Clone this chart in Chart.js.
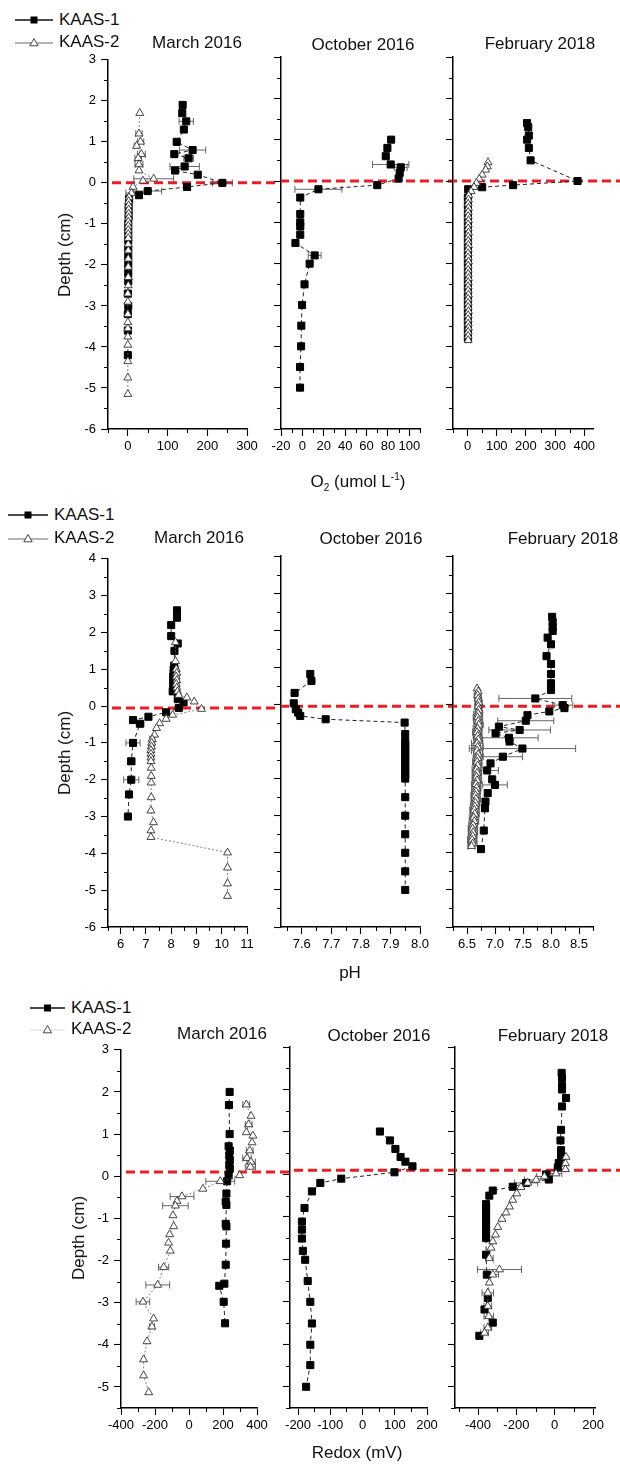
<!DOCTYPE html>
<html>
<head>
<meta charset="utf-8">
<script src="https://cdn.jsdelivr.net/npm/chart.js@4.4.1/dist/chart.umd.min.js"></script>
<style>
  body { margin:0; width:620px; height:1464px; background:#fff; position:relative; overflow:hidden;
         font-family:"Liberation Sans", Arial, sans-serif; color:#111; }
  canvas { position:absolute; }
  .lbl { position:absolute; font-size:17px; white-space:nowrap; transform:translate(-50%,-50%); }
  .ytitle { transform:translate(-50%,-50%) rotate(-90deg); }
  .leg { position:absolute; font-size:17px; white-space:nowrap; display:flex; align-items:center; transform:translateY(-50%); }
  .leg svg { margin-right:6px; }
  sub, sup { font-size:10px; }
</style>
</head>
<body>
<script>
/* ============================================================
   DATA  -  each row: [depth (cm), value, sd]
   ============================================================ */

// O2 (umol L-1)
const o2Mar1 = [[1.9,138],[1.7,137],[1.5,147,18],[1.3,141],[1.0,123],[0.8,163,33],[0.7,117],[0.6,153,12],
  [0.4,143,37],[0.3,119],[0.2,176],[0.0,238,25],[-0.1,149],[-0.2,50,35],[-0.3,28],[-0.4,3],[-0.6,2],[-0.8,2],
  [-1.0,1],[-1.2,1],[-1.4,1],[-1.6,1],[-1.8,1],[-2.0,1],[-2.2,1],[-2.4,1],[-2.7,0],[-3.0,1],[-3.2,0],[-3.6,0],[-4.2,0]];
const o2Mar2 = [[1.7,30],[1.2,28,8],[1.0,32,8],[0.9,22,6],[0.7,34,10],[0.6,26,8],[0.45,28,10],[0.3,28],[0.1,65,50],
  [0.05,38],[-0.1,13],[-0.25,9,14],[-0.35,3,6],[-0.45,2,6],[-0.55,2,6],[-0.65,2,6],[-0.75,2,6],[-0.85,2,6],[-0.95,1,6],
  [-1.05,1,6],[-1.15,1,6],[-1.25,1,6],[-1.35,1,4],[-1.5,1,4],[-1.65,1,4],[-1.85,1],[-2.05,1],[-2.3,1],[-2.5,1],[-2.7,0],
  [-2.9,0],[-3.2,0],[-3.4,0],[-3.55,0],[-3.75,0],[-3.95,0],[-4.35,0],[-4.75,0],[-5.15,0]];
const o2Oct1 = [[1.0,83],[0.8,79.5],[0.6,78],[0.4,82.6,17],[0.33,92,6],[0.2,91],[0.06,90],[-0.1,70],[-0.2,15,22],
  [-0.4,-2],[-0.8,-2],[-1.0,-2],[-1.1,-2],[-1.3,-2],[-1.5,-6.5],[-1.8,11.5,6],[-2.0,6.8],[-2.5,2],[-3.0,-0.3],
  [-3.5,-1],[-4.0,-1.2],[-4.5,-2.2],[-5.0,-2.2]];
const o2Feb1 = [[1.4,204],[1.3,208],[1.1,210],[1.0,204],[0.8,210],[0.5,216],[0.0,377,10],[-0.1,156],[-0.15,50],
  [-0.2,2],[-0.4,1],[-0.6,1],[-0.8,1],[-1.0,1],[-1.2,1],[-1.4,1],[-1.6,1],[-1.8,1],[-2.0,1],[-2.2,1],[-2.4,1],
  [-2.6,1],[-2.8,1],[-3.0,1],[-3.2,1],[-3.4,1],[-3.6,1],[-3.8,1]];
const o2Feb2 = [[0.45,70],[0.35,68],[0.27,62],[0.15,50],[0.05,40],[-0.05,30],[-0.15,22],[-0.25,12],[-0.35,4,8],
  [-0.45,3,8],[-0.55,2,8],[-0.65,3,8],[-0.75,2,8],[-0.85,2,8],[-0.95,3,8],[-1.05,2,8],[-1.15,2,8],[-1.25,3,8],
  [-1.35,2,8],[-1.45,2,8],[-1.55,3,8],[-1.65,2,8],[-1.75,2,8],[-1.85,2,8],[-1.95,3,8],[-2.05,2,8],[-2.15,2,8],
  [-2.25,2,8],[-2.35,3,8],[-2.45,2,8],[-2.55,2,8],[-2.65,2,8],[-2.75,3,8],[-2.85,2,8],[-2.95,2,8],[-3.05,2,8],
  [-3.15,3,8],[-3.25,2,8],[-3.35,2,8],[-3.45,2,8],[-3.55,3,8],[-3.65,2,8],[-3.75,2,8],[-3.85,2,8]];

// pH
const phMar1 = [[2.6,8.23],[2.4,8.23],[2.2,8.0],[1.9,8.0],[1.7,8.26],[1.5,8.13],[1.1,8.12],[1.0,8.1],[0.9,8.1],
  [0.8,8.08],[0.7,8.1],[0.6,8.08],[0.5,8.1],[0.4,8.06],[0.19,8.26],[0.1,8.49],[-0.05,8.3],[-0.17,7.8],[-0.29,7.1],
  [-0.38,6.49],[-0.48,6.77,0.15],[-1.0,6.49,0.28],[-1.5,6.42,0.15],[-2.0,6.42,0.3],[-2.4,6.33,0.12],[-3.0,6.29]];
const phMar2 = [[1.73,8.17],[1.22,8.17],[1.0,8.2,0.1],[0.9,8.22,0.1],[0.8,8.2,0.1],[0.7,8.22,0.1],[0.6,8.2,0.1],
  [0.5,8.22,0.1],[0.4,8.25],[0.3,8.3],[0.23,8.62],[0.12,8.91],[-0.08,9.2],[-0.24,8.06],[-0.35,7.8],[-0.47,7.54],
  [-0.6,7.42],[-0.78,7.34],[-0.9,7.25,0.1],[-1.0,7.23,0.1],[-1.1,7.22,0.1],[-1.2,7.2,0.1],[-1.3,7.2,0.1],[-1.4,7.2,0.1],
  [-1.5,7.2],[-1.68,7.21],[-1.9,7.21],[-2.08,7.21],[-2.48,7.21],[-2.84,7.2],[-3.16,7.3],[-3.38,7.2],[-3.56,7.2],
  [-3.98,10.23],[-4.39,10.23],[-4.82,10.23],[-5.16,10.23]];
const phOct1 = [[0.82,7.629],[0.63,7.633],[0.31,7.576],[0.03,7.573],[-0.13,7.58],[-0.22,7.588],[-0.31,7.595],
  [-0.4,7.681],[-0.49,7.948],[-0.8,7.95],[-1.0,7.95],[-1.1,7.95],[-1.2,7.95],[-1.3,7.95],[-1.4,7.95],[-1.5,7.95],
  [-1.6,7.95],[-1.7,7.95],[-1.8,7.95],[-1.9,7.95],[-2.0,7.95],[-2.5,7.95],[-3.0,7.95],[-3.5,7.95],[-4.0,7.95],
  [-4.5,7.95],[-5.0,7.95]];
const phFeb1 = [[2.36,8.02],[2.22,8.03],[2.09,8.03],[1.98,8.03],[1.8,7.94],[1.62,8.0],[1.3,7.92],[1.09,8.0],
  [0.82,8.0],[0.57,8.0],[0.39,8.0],[0.16,7.72,0.65],[-0.02,8.21,0.18],[-0.1,8.24],[-0.19,7.97],[-0.29,7.58],
  [-0.44,7.55,0.5],[-0.6,7.07],[-0.69,7.44,0.55],[-0.78,7.01],[-0.9,7.25,0.52],[-1.0,7.26],[-1.19,7.49,0.95],
  [-1.41,7.14,0.35],[-1.59,6.92],[-1.78,6.86,0.2],[-2.02,6.95],[-2.17,7.0,0.22],[-2.39,6.87],[-2.62,6.83],
  [-2.8,6.82],[-3.4,6.8],[-3.9,6.75]];
const phFeb2 = [[0.43,6.68],[0.35,6.7],[0.25,6.69,0.06],[0.15,6.7,0.06],[0.05,6.71,0.06],[-0.05,6.7,0.06],
  [-0.15,6.71,0.06],[-0.25,6.7,0.08],[-0.35,6.69,0.08],[-0.45,6.7,0.08],[-0.55,6.71,0.08],[-0.65,6.69,0.08],
  [-0.75,6.68,0.08],[-0.85,6.69,0.08],[-0.95,6.7,0.08],[-1.05,6.68,0.1],[-1.15,6.69,0.1],[-1.25,6.68,0.1],
  [-1.35,6.7,0.08],[-1.45,6.69,0.08],[-1.55,6.68,0.08],[-1.65,6.69,0.08],[-1.75,6.67,0.08],[-1.85,6.68,0.08],
  [-1.95,6.67,0.08],[-2.05,6.68,0.08],[-2.15,6.66,0.08],[-2.25,6.67,0.08],[-2.35,6.66,0.08],[-2.45,6.65,0.08],
  [-2.55,6.66,0.08],[-2.65,6.65,0.08],[-2.75,6.64,0.08],[-2.85,6.63,0.08],[-2.95,6.64,0.08],[-3.05,6.62,0.08],
  [-3.15,6.63,0.08],[-3.25,6.61,0.08],[-3.35,6.6,0.08],[-3.45,6.61,0.08],[-3.55,6.6,0.08],[-3.65,6.59,0.08],
  [-3.75,6.6,0.08],[-3.82,6.58,0.06]];

// Redox (mV)
const rdMar1 = [[2.0,239],[1.69,235],[1.0,239],[0.71,233],[0.61,240],[0.49,237],[0.38,240],[0.27,237],[0.18,240],
  [0.02,233],[-0.12,224],[-0.41,220],[-0.6,216],[-0.68,220],[-1.13,216],[-1.19,220],[-1.6,218],[-2.1,216],
  [-2.55,208],[-2.6,178],[-2.98,204],[-3.49,212]];
const rdMar2 = [[1.7,337,20],[1.43,365],[1.23,351,20],[1.04,337],[0.96,376],[0.8,371],[0.61,357,20],[0.43,341,25],
  [0.34,365,25],[0.22,361,30],[0.02,298],[-0.12,184,85],[-0.3,82],[-0.48,-41,70],[-0.59,-71],[-0.7,-80,75],
  [-0.93,-94],[-1.19,-90],[-1.38,-114],[-1.58,-120],[-1.77,-110],[-2.16,-149,30],[-2.58,-184,70],[-2.98,-271,40],
  [-3.38,-208],[-3.57,-218,15],[-3.92,-247],[-4.35,-267],[-4.73,-267],[-5.13,-237]];
const rdOct1 = [[1.01,54],[0.8,85],[0.6,102],[0.41,118],[0.3,133],[0.19,155],[0.05,99],[-0.1,-66],[-0.2,-131],
  [-0.4,-157],[-0.79,-180],[-1.11,-188],[-1.3,-188],[-1.51,-188],[-1.8,-185],[-2.01,-178],[-2.51,-170],[-3.0,-162],
  [-3.51,-157],[-4.01,-162],[-4.49,-162],[-5.0,-175]];
const rdFeb1 = [[2.39,36],[2.27,38],[2.08,38],[2.0,38],[1.8,59],[1.6,38],[1.05,33],[0.8,30],[0.57,33],[0.41,33],
  [0.27,21],[0.16,16],[0.0,-45],[-0.12,-31],[-0.2,-149,60],[-0.29,-219],[-0.38,-323],[-0.5,-341],[-0.7,-358],
  [-0.8,-358],[-0.9,-358],[-1.0,-358],[-1.1,-358],[-1.2,-358],[-1.3,-358],[-1.4,-358],[-1.5,-358],[-1.89,-358],
  [-2.36,-354],[-2.91,-349],[-3.18,-366],[-3.49,-323],[-3.8,-393]];
const rdFeb2 = [[0.41,59],[0.26,56],[0.12,56],[0.02,7,30],[-0.05,-54,40],[-0.13,-97,60],[-0.2,-141],[-0.3,-176],
  [-0.45,-198],[-0.6,-219],[-0.76,-236],[-0.9,-254],[-1.05,-275],[-1.24,-297],[-1.42,-309],[-1.58,-323],
  [-1.73,-332],[-1.97,-341,20],[-2.24,-288,115],[-2.36,-323,30],[-2.55,-341],[-2.79,-349,30],[-3.1,-349,20],
  [-3.34,-344,25],[-3.61,-349,20],[-3.73,-366,20]];

const surfaceDepth = [0, -0.05, 0.1];
const panelTitles  = ['March 2016', 'October 2016', 'February 2018'];
const seriesNames  = ['KAAS-1', 'KAAS-2'];
const depthTitle   = 'Depth (cm)';

/* ============================================================
   LAYOUT
   ============================================================ */
// axes: [min, max, major, minor, decimals]
const ROWS = [
  { top:57, bottom:429, y:[-6,3], plots:[[108,247],[281,420],[453,593]],
    axes:[[-50,300,100,50,0],[-20,110,20,10,0],[-50,430,100,50,0]],
    series:[[o2Mar1,o2Mar2],[o2Oct1,null],[o2Feb1,o2Feb2]],
    titles:[[197,43],[363,45],[540,44]], ytitle:[65,255],
    xtitle:{x:358,y:482,html:'O<sub>2</sub> (umol L<sup>-1</sup>)'},
    legend:{x0:15,x1:53,tx:59,y:[20,42],line2:'#666'} },
  { top:556, bottom:927, y:[-6,4], plots:[[108,247],[281,420],[453,593]],
    axes:[[5.5,11,1,0.5,0],[7.53,8.0,0.1,0.05,1],[6.25,8.75,0.5,0.25,1]],
    series:[[phMar1,phMar2],[phOct1,null],[phFeb1,phFeb2]],
    titles:[[199,538],[371,539],[563,539]], ytitle:[65,753],
    xtitle:{x:350,y:973,html:'pH'},
    legend:{x0:8,x1:48,tx:53,y:[515,538],line2:'#666'} },
  { top:1047, bottom:1408, y:[-5.5,3], plots:[[121,257],[290,427],[455,595]],
    axes:[[-400,400,200,100,0],[-225,200,100,50,0],[-520,210,200,100,0]],
    series:[[rdMar1,rdMar2],[rdOct1,null],[rdFeb1,rdFeb2]],
    titles:[[222,1034],[379,1036],[553,1036]], ytitle:[79,1238],
    xtitle:{x:357,y:1453,html:'Redox (mV)'},
    legend:{x0:30,x1:65,tx:73,y:[1008,1029],line2:'#ddd'} },
];

const AXIS_W = 40, XAXIS_H = 26, PAD_TOP = 10;
Chart.defaults.font.family = '"Liberation Sans", Arial, sans-serif';
Chart.defaults.font.size = 13;
Chart.defaults.color = '#000';

/* ============================================================
   PLUGINS
   ============================================================ */

/** Red dashed sediment-water interface line, continued to the next panel. */
const surfacePlugin = {
  id: 'surface',
  beforeDatasetsDraw(chart, args, opts) {
    const y = chart.scales.y.getPixelForValue(opts.depth);
    const x0 = chart.chartArea.left;
    const ctx = chart.ctx;
    ctx.save();
    ctx.strokeStyle = 'rgb(236,28,36)';
    ctx.lineWidth = 3;
    ctx.setLineDash([9, 5]);
    ctx.lineDashOffset = (opts.pageLeft + x0) % 14;
    ctx.beginPath(); ctx.moveTo(x0, y); ctx.lineTo(chart.width, y); ctx.stroke();
    ctx.restore();
  }
};

/** Horizontal standard deviation bars. */
const errorBarPlugin = {
  id: 'errbars',
  beforeDatasetsDraw(chart) {
    const {ctx, scales:{x, y}} = chart;
    ctx.save();
    ctx.strokeStyle = '#555';
    ctx.lineWidth = 0.9;
    chart.data.datasets.forEach(ds => {
      ds.data.forEach((p, i) => {
        const e = ds.errs[i];
        if (!e) return;
        const xa = x.getPixelForValue(p.x - e), xb = x.getPixelForValue(p.x + e), py = y.getPixelForValue(p.y);
        ctx.beginPath();
        ctx.moveTo(xa, py); ctx.lineTo(xb, py);
        ctx.moveTo(xa, py - 3.5); ctx.lineTo(xa, py + 3.5);
        ctx.moveTo(xb, py - 3.5); ctx.lineTo(xb, py + 3.5);
        ctx.stroke();
      });
    });
    ctx.restore();
  }
};

/** Short minor tick marks between the labelled ones. */
const minorTickPlugin = {
  id: 'minorTicks',
  afterDraw(chart, args, opts) {
    const {ctx, chartArea:a, scales:{x, y}} = chart;
    ctx.save();
    ctx.strokeStyle = '#000';
    ctx.lineWidth = 1.1;
    ctx.beginPath();
    const marks = (min, max, minor, major, fn) => {
      for (let k = Math.ceil(min / minor - 1e-9); k * minor <= max + 1e-9; k++) {
        const v = k * minor;
        if (Math.abs(v / major - Math.round(v / major)) < 1e-6) continue;
        fn(v);
      }
    };
    marks(x.min, x.max, opts.xMinor, opts.xMajor, v => { const px = Math.round(x.getPixelForValue(v)) + 0.5; ctx.moveTo(px, a.bottom); ctx.lineTo(px, a.bottom + 4); });
    marks(y.min, y.max, 0.5, 1, v => { const py = Math.round(y.getPixelForValue(v)) + 0.5; ctx.moveTo(a.left, py); ctx.lineTo(a.left - 4, py); });
    ctx.stroke();
    ctx.restore();
  }
};

/* ============================================================
   BUILD
   ============================================================ */

function majorTicks(min, max, step) {
  const out = [];
  for (let k = Math.ceil(min / step - 1e-9); k * step <= max + 1e-9; k++) out.push({ value: +(k * step).toFixed(6) });
  return out;
}

function toDataset(rows, kind) {
  const square = kind === 0;
  return {
    label: seriesNames[kind],
    data: rows.map(r => ({ x: r[1], y: r[0] })),
    errs: rows.map(r => r[2] || 0),
    showLine: true,
    order: square ? 1 : 0,
    borderColor: square ? '#222' : '#666',
    borderWidth: square ? 1 : 0.8,
    borderDash: square ? [4, 3] : [2, 2],
    pointStyle: square ? 'rect' : 'triangle',
    pointRadius: square ? 5 : 4.6,
    pointBackgroundColor: square ? '#000' : '#fff',
    pointBorderColor: square ? '#000' : '#333',
    pointBorderWidth: square ? 1 : 0.9,
    tension: 0,
  };
}

function makePanel(row, ri, pi) {
  const [left, right] = row.plots[pi];
  const nextLeft = pi < 2 ? row.plots[pi + 1][0] : 620;
  const cx = left - AXIS_W, cy = row.top - PAD_TOP;
  const w = nextLeft - cx, h = row.bottom + XAXIS_H - cy;
  const [xMin, xMax, xMajor, xMinor, dec] = row.axes[pi];

  const canvas = document.createElement('canvas');
  canvas.width = w; canvas.height = h;
  canvas.style.left = cx + 'px'; canvas.style.top = cy + 'px';
  document.body.appendChild(canvas);

  const datasets = row.series[pi].map((s, k) => s ? toDataset(s, k) : null).filter(Boolean);

  new Chart(canvas, {
    type: 'scatter',
    data: { datasets },
    plugins: [surfacePlugin, errorBarPlugin, minorTickPlugin],
    options: {
      responsive: false, animation: false, devicePixelRatio: 1,
      layout: { padding: { left: 0, top: PAD_TOP, bottom: 0, right: w - AXIS_W - (right - left) } },
      plugins: {
        legend: { display: false }, tooltip: { enabled: false },
        surface: { depth: surfaceDepth[ri], pageLeft: cx },
        minorTicks: { xMinor, xMajor },
      },
      scales: {
        x: {
          type: 'linear', min: xMin, max: xMax,
          afterBuildTicks: s => { s.ticks = majorTicks(xMin, xMax, xMajor); },
          afterFit: s => { s.height = XAXIS_H; },
          border: { color: '#000', width: 1.5 },
          grid: { drawOnChartArea: false, tickLength: 7, tickWidth: 1.1, tickColor: '#000' },
          ticks: { maxRotation: 0, autoSkip: false, padding: 3, font: { size: 13 },
                   callback: v => Number(v).toFixed(dec) },
        },
        y: {
          type: 'linear', min: row.y[0], max: row.y[1],
          afterBuildTicks: s => { s.ticks = majorTicks(row.y[0], row.y[1], 1); },
          afterFit: s => { s.width = AXIS_W; },
          border: { color: '#000', width: 1.5 },
          grid: { drawOnChartArea: false, tickLength: 7, tickWidth: 1.1, tickColor: '#000' },
          ticks: { display: pi === 0, autoSkip: false, padding: 5, font: { size: 13 },
                   callback: v => String(v) },
        },
      },
    },
  });
}

function addLabel(html, x, y, cls) {
  const d = document.createElement('div');
  d.className = 'lbl' + (cls ? ' ' + cls : '');
  d.innerHTML = html;
  d.style.left = x + 'px'; d.style.top = y + 'px';
  document.body.appendChild(d);
}

function addLegend(lg) {
  const len = lg.x1 - lg.x0, mid = len / 2;
  const marks = [
    `<svg width="${len}" height="12"><line x1="0" y1="6" x2="${len}" y2="6" stroke="#111" stroke-width="1.3"/><rect x="${mid - 3.5}" y="2.5" width="7" height="7" fill="#000"/></svg>`,
    `<svg width="${len}" height="12"><line x1="0" y1="7" x2="${len}" y2="7" stroke="${lg.line2}" stroke-width="1"/><path d="M${mid} 2.5 L${mid + 4.2} 9.8 L${mid - 4.2} 9.8 Z" fill="#fff" stroke="#333" stroke-width="0.9"/></svg>`,
  ];
  seriesNames.forEach((name, k) => {
    const d = document.createElement('div');
    d.className = 'leg';
    d.style.left = lg.x0 + 'px'; d.style.top = lg.y[k] + 'px';
    d.innerHTML = marks[k] + `<span>${name}</span>`;
    document.body.appendChild(d);
  });
}

ROWS.forEach((row, ri) => {
  row.plots.forEach((_, pi) => makePanel(row, ri, pi));
  panelTitles.forEach((t, i) => addLabel(t, row.titles[i][0], row.titles[i][1]));
  addLabel(depthTitle, row.ytitle[0], row.ytitle[1], 'ytitle');
  addLabel(row.xtitle.html, row.xtitle.x, row.xtitle.y);
  addLegend(row.legend);
});
</script>
</body>
</html>
